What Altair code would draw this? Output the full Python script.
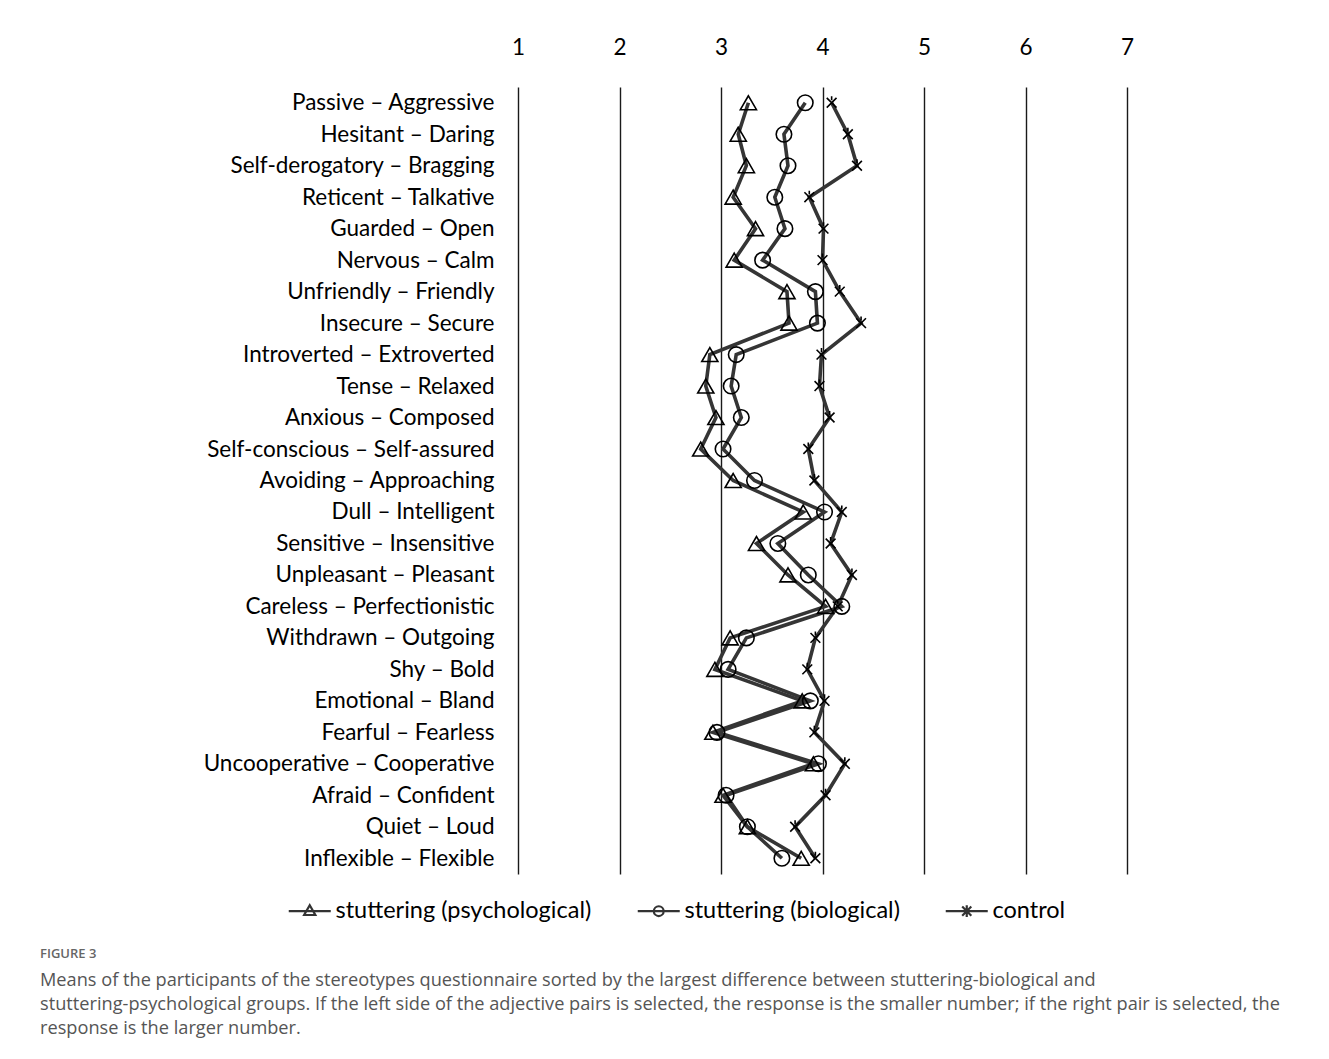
import altair as alt
import pandas as pd

rows = [
    "Passive – Aggressive", "Hesitant – Daring", "Self-derogatory – Bragging",
    "Reticent – Talkative", "Guarded – Open", "Nervous – Calm",
    "Unfriendly – Friendly", "Insecure – Secure", "Introverted – Extroverted",
    "Tense – Relaxed", "Anxious – Composed", "Self-conscious – Self-assured",
    "Avoiding – Approaching", "Dull – Intelligent", "Sensitive – Insensitive",
    "Unpleasant – Pleasant", "Careless – Perfectionistic", "Withdrawn – Outgoing",
    "Shy – Bold", "Emotional – Bland", "Fearful – Fearless",
    "Uncooperative – Cooperative", "Afraid – Confident", "Quiet – Loud",
    "Inflexible – Flexible",
]
psych = [3.27, 3.17, 3.25, 3.12, 3.34, 3.13, 3.65, 3.67, 2.89, 2.85, 2.95, 2.80, 3.12,
         3.81, 3.35, 3.66, 4.03, 3.09, 2.94, 3.80, 2.92, 3.91, 3.02, 3.26, 3.79]
bio = [3.83, 3.62, 3.66, 3.53, 3.63, 3.41, 3.93, 3.95, 3.15, 3.10, 3.20, 3.02, 3.33,
       4.02, 3.56, 3.86, 4.19, 3.25, 3.07, 3.88, 2.96, 3.96, 3.05, 3.26, 3.60]
ctrl = [4.09, 4.25, 4.34, 3.87, 4.01, 4.00, 4.17, 4.38, 3.99, 3.97, 4.07, 3.86, 3.92,
        4.19, 4.08, 4.29, 4.15, 3.93, 3.85, 4.02, 3.92, 4.22, 4.03, 3.73, 3.93]
series_names = ["stuttering (psychological)", "stuttering (biological)", "control"]
ticks = [1, 2, 3, 4, 5, 6, 7]

caption_title = "FIGURE 3"
caption_lines = [
    "Means of the participants of the stereotypes questionnaire sorted by the largest difference between stuttering-biological and",
    "stuttering-psychological groups. If the left side of the adjective pairs is selected, the response is the smaller number; if the right pair is selected, the",
    "response is the larger number.",
]

recs = []
for name, vals in zip(series_names, [psych, bio, ctrl]):
    for i, (r, v) in enumerate(zip(rows, vals)):
        recs.append({"item": r, "value": v, "series": name, "idx": i})
df = pd.DataFrame(recs)

FONT = "Lato"
LINE_COLOR = "#353535"

x_enc = alt.X("value:Q", scale=alt.Scale(domain=[1, 7], nice=False, zero=False),
              axis=alt.Axis(orient="top", values=ticks, title=None, ticks=False, domain=False,
                            grid=True, gridColor="#1a1a1a", gridWidth=1.4, gridOpacity=1,
                            labelFontSize=22.5, labelFont=FONT, labelColor="black",
                            labelPadding=28, labelFlush=False, format="d"))
y_enc = alt.Y("item:N", sort=rows, scale=alt.Scale(padding=0.5),
              axis=alt.Axis(title=None, ticks=False, domain=False, grid=False,
                            labelFontSize=22.5, labelFont=FONT, labelColor="black",
                            labelPadding=24, labelLimit=400))

base = alt.Chart(df)

lines = base.mark_line(color=LINE_COLOR, strokeWidth=3.6).encode(
    x=x_enc, y=y_enc, detail="series:N", order="idx:Q"
)

ast_path = "M-0.75,-0.75L0.75,0.75M-0.75,0.75L0.75,-0.75M0,-1L0,-0.4"
shapes_plot = ["triangle-up", "circle", ast_path]
sizes_plot = [260, 240, 170]

point_layers = []
for name, shp, sz in zip(series_names, shapes_plot, sizes_plot):
    point_layers.append(
        base.transform_filter(alt.datum.series == name).mark_point(
            shape=shp, filled=False, color="black", strokeWidth=1.6, size=sz, opacity=1
        ).encode(x=x_enc, y=y_enc)
    )

leg_paths = [
    "M-3,0H3M0,-0.85L0.8,0.55L-0.8,0.55Z",
    "M-3,0H3M-0.7,0A0.7,0.7 0 1,0 0.7,0A0.7,0.7 0 1,0 -0.7,0",
    "M-3,0H3M-0.65,-0.65L0.65,0.65M-0.65,0.65L0.65,-0.65M0,-0.85V0.85",
]
legend_layer = base.transform_filter("false").mark_point(filled=False, color="#333").encode(
    x=x_enc, y=y_enc,
    shape=alt.Shape("series:N", scale=alt.Scale(domain=series_names, range=leg_paths),
                    legend=alt.Legend(title=None, orient="none", direction="horizontal",
                                      legendX=-220, legendY=812, padding=0,
                                      symbolSize=196, symbolStrokeWidth=2.2,
                                      symbolStrokeColor="#333", symbolFillColor="transparent",
                                      symbolOpacity=1,
                                      labelFontSize=23.5, labelFont=FONT, labelColor="black",
                                      labelOffset=14, columnPadding=41, labelLimit=400)),
)

chart = alt.layer(lines, *point_layers, legend_layer).properties(
    width=609, height=787,
    padding={"left": 32, "top": 28, "right": 10, "bottom": 10},
    title=alt.TitleParams(
        text=caption_title, subtitle=caption_lines, orient="bottom", anchor="start",
        frame="group", dx=-478, offset=25,
        font="Open Sans", fontSize=13, fontWeight=600, color="#666",
        subtitleFont="Open Sans", subtitleFontSize=18.2, subtitleColor="#555",
        subtitleLineHeight=24, subtitlePadding=11,
    ),
).configure(background="white").configure_view(stroke=None, strokeWidth=0)

chart.save("out.html", embed_options={"renderer": "svg", "actions": False})
